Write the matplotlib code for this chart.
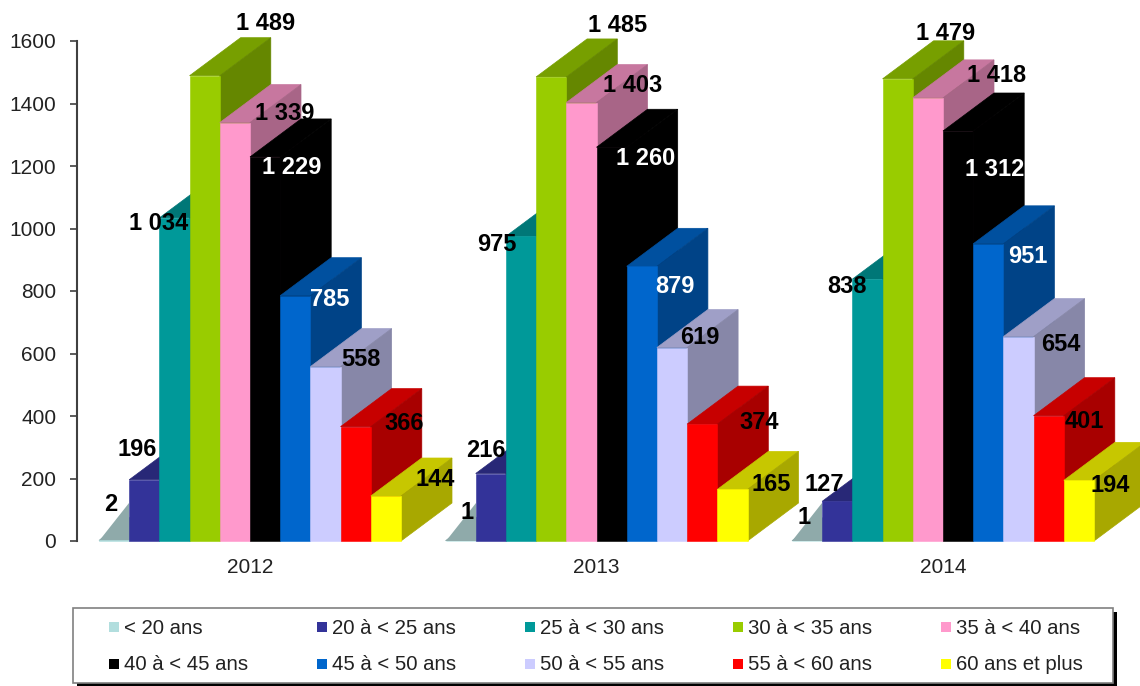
import numpy as np
import matplotlib
matplotlib.use('Agg')
import matplotlib.pyplot as plt
from matplotlib.patches import Rectangle
from matplotlib.colors import to_rgb

plt.rcParams['font.family'] = ['Liberation Sans', 'DejaVu Sans']

years = ['2012', '2013', '2014']
age_groups = ['< 20 ans', '20 à < 25 ans', '25 à < 30 ans', '30 à < 35 ans', '35 à < 40 ans',
              '40 à < 45 ans', '45 à < 50 ans', '50 à < 55 ans', '55 à < 60 ans', '60 ans et plus']
values_2012 = [2, 196, 1034, 1489, 1339, 1229, 785, 558, 366, 144]
values_2013 = [1, 216, 975, 1485, 1403, 1260, 879, 619, 374, 165]
values_2014 = [1, 127, 838, 1479, 1418, 1312, 951, 654, 401, 194]
colors = ['#B2DEDE', '#333399', '#009999', '#99CC00', '#FF99CC',
          '#000000', '#0066CC', '#CCCCFF', '#FF0000', '#FFFF00']
label_colors = ['black'] * 5 + ['white', 'white'] + ['black'] * 3

# Label offsets from the top centre of each front face, in pixels (x right, y down)
offsets_2012 = [(-3, -38), (-7, -32), (-16, 4), (61, -54), (50, -11), (27, 9), (34, 2), (35, -9), (48, -5), (49, -19)]
offsets_2013 = [(6, -30), (-5, -25), (-24, 6), (66, -53), (51, -19), (34, 9), (33, 18), (28, -12), (57, -4), (39, -7)]
offsets_2014 = [(-3, -25), (-13, -19), (-21, 5), (48, -47), (69, -24), (37, 37), (40, 11), (42, 6), (36, 4), (31, 3)]

all_values = [values_2012, values_2013, values_2014]
all_offsets = [offsets_2012, offsets_2013, offsets_2014]

W, H = 1140, 686
bar_px = 30.2  # One x unit is one bar width
first_x = (99 - 77) / bar_px
group_step = 346.5 / bar_px
depth_x = 51 / bar_px
depth_y = 38 / (500 / 1600)


def shade(color, factor):
    return tuple(c * factor for c in to_rgb(color))


fig = plt.figure(figsize=(W / 100, H / 100), dpi=100)

# Overlay in pixel coordinates for the hand-placed legend box
leg = fig.add_axes([0, 0, 1, 1])
leg.set_xlim(0, W)
leg.set_ylim(H, 0)
leg.axis('off')
leg.add_patch(Rectangle((77, 612), 1040, 75, facecolor='black', edgecolor='none'))
leg.add_patch(Rectangle((73, 608), 1040, 75, facecolor='white', edgecolor='#808080', linewidth=1.2))
for i, name in enumerate(age_groups):
    col_x = 109 + 208 * (i % 5)
    row_y = 627 + 37 * (i // 5)
    leg.add_patch(Rectangle((col_x, row_y - 5), 10, 10, facecolor=colors[i], edgecolor='none'))
    leg.text(col_x + 15, row_y + 1, name, fontsize=14.7, color='#222222', va='center', ha='left')

ax = fig.add_axes([77 / W, (H - 541) / H, (W - 77) / W, 500 / H])
ax.patch.set_alpha(0)
ax.set_xlim(0, (W - 77) / bar_px)
ax.set_ylim(0, 1600)

for g, values in enumerate(all_values):
    start = first_x + g * group_step
    for i, v in enumerate(values):
        x0 = start + i
        x1 = x0 + 1
        # Top and side first, the next bar's front face covers what is behind it
        ax.fill([x0, x1, x1 + depth_x, x0 + depth_x], [v, v, v + depth_y, v + depth_y],
                color=shade(colors[i], 0.78), linewidth=0.5, clip_on=False)
        side = '#8FAAAA' if i == 0 else shade(colors[i], 0.66)
        ax.fill([x1, x1 + depth_x, x1 + depth_x, x1], [0, depth_y, v + depth_y, v],
                color=side, linewidth=0.5, clip_on=False)
        if i == 0:
            # Almost no height, the visible wedge is the depth of the bar
            ax.fill([x0, x1, x1], [0, 0, depth_y], color=side, linewidth=0, clip_on=False)
        ax.bar(x0, v, width=1, align='edge', color=colors[i], edgecolor=colors[i], linewidth=0.4, clip_on=False)

for g, values in enumerate(all_values):
    start = first_x + g * group_step
    for i, v in enumerate(values):
        ox, oy = all_offsets[g][i]
        ax.annotate(f'{v:,}'.replace(',', ' '), (start + i + 0.5, v), xytext=(ox, -oy - 2),
                    textcoords='offset pixels', ha='center', va='center', fontsize=17,
                    fontweight='bold', color=label_colors[i], annotation_clip=False)

ax.set_xticks([first_x + g * group_step + 5 for g in range(3)])
ax.set_xticklabels(years, fontsize=15, color='#222222')
ax.tick_params(axis='x', length=0, pad=12)
ax.set_yticks(np.arange(0, 1601, 200))
ax.tick_params(axis='y', length=5, width=1.2, color='#404040', pad=10, labelsize=15, labelcolor='#222222')
for s in ['top', 'right', 'bottom']:
    ax.spines[s].set_visible(False)
ax.spines['left'].set_linewidth(1.5)
ax.spines['left'].set_color('#404040')

fig.savefig('out.png', dpi=100)
